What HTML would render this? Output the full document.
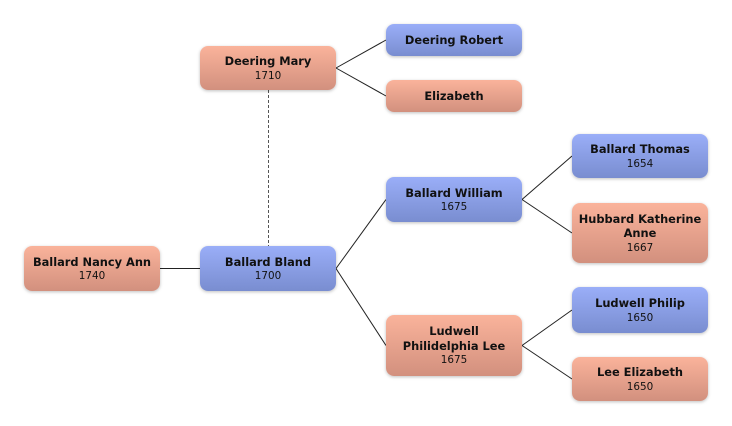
<!DOCTYPE html>
<html><head><meta charset="utf-8"><style>
html,body{margin:0;padding:0;background:#fff;}
body{width:732px;height:426px;position:relative;overflow:hidden;font-family:"DejaVu Sans","Liberation Sans",sans-serif;}
.n{position:absolute;width:136px;border-radius:8px;box-sizing:border-box;display:flex;flex-direction:column;justify-content:center;align-items:center;text-align:center;color:#111;box-shadow:0 1px 3px rgba(0,0,0,0.25);line-height:14.5px;padding-top:1px;}
.b{background:linear-gradient(#9aaef8,#798dd0);}
.p{background:linear-gradient(#fab39b,#d2907e);}
.t{font-weight:bold;font-size:11.4px;}
.y{font-size:10.4px;}
svg{position:absolute;left:0;top:0;}
</style></head><body>
<svg width="732" height="426">
<g stroke="#222" stroke-width="1" fill="none">
<line x1="336" y1="68" x2="386" y2="40"/>
<line x1="336" y1="68" x2="386" y2="96"/>
<line x1="160" y1="268.5" x2="200" y2="268.5"/>
<line x1="336" y1="268.5" x2="386" y2="199.5"/>
<line x1="336" y1="268.5" x2="386" y2="345.5"/>
<line x1="522" y1="199.5" x2="572" y2="156"/>
<line x1="522" y1="199.5" x2="572" y2="233"/>
<line x1="522" y1="345.5" x2="572" y2="310"/>
<line x1="522" y1="345.5" x2="572" y2="379"/>
</g>
<line x1="268.5" y1="90" x2="268.5" y2="246" stroke="#555" stroke-width="1" stroke-dasharray="3,2"/>
</svg>
<div class="n p" style="left:200px;top:46px;height:44px;"><div class="t">Deering Mary</div><div class="y">1710</div></div>
<div class="n b" style="left:386px;top:24px;height:32px;"><div class="t">Deering Robert</div></div>
<div class="n p" style="left:386px;top:80px;height:32px;"><div class="t">Elizabeth</div></div>
<div class="n p" style="left:24px;top:246px;height:45px;"><div class="t">Ballard Nancy Ann</div><div class="y">1740</div></div>
<div class="n b" style="left:200px;top:246px;height:45px;"><div class="t">Ballard Bland</div><div class="y">1700</div></div>
<div class="n b" style="left:386px;top:177px;height:45px;"><div class="t">Ballard William</div><div class="y">1675</div></div>
<div class="n b" style="left:572px;top:134px;height:44px;"><div class="t">Ballard Thomas</div><div class="y">1654</div></div>
<div class="n p" style="left:572px;top:203px;height:60px;"><div class="t">Hubbard Katherine<br>Anne</div><div class="y">1667</div></div>
<div class="n p" style="left:386px;top:315px;height:61px;"><div class="t">Ludwell<br>Philidelphia Lee</div><div class="y">1675</div></div>
<div class="n b" style="left:572px;top:287px;height:46px;"><div class="t">Ludwell Philip</div><div class="y">1650</div></div>
<div class="n p" style="left:572px;top:357px;height:44px;"><div class="t">Lee Elizabeth</div><div class="y">1650</div></div>
</body></html>
